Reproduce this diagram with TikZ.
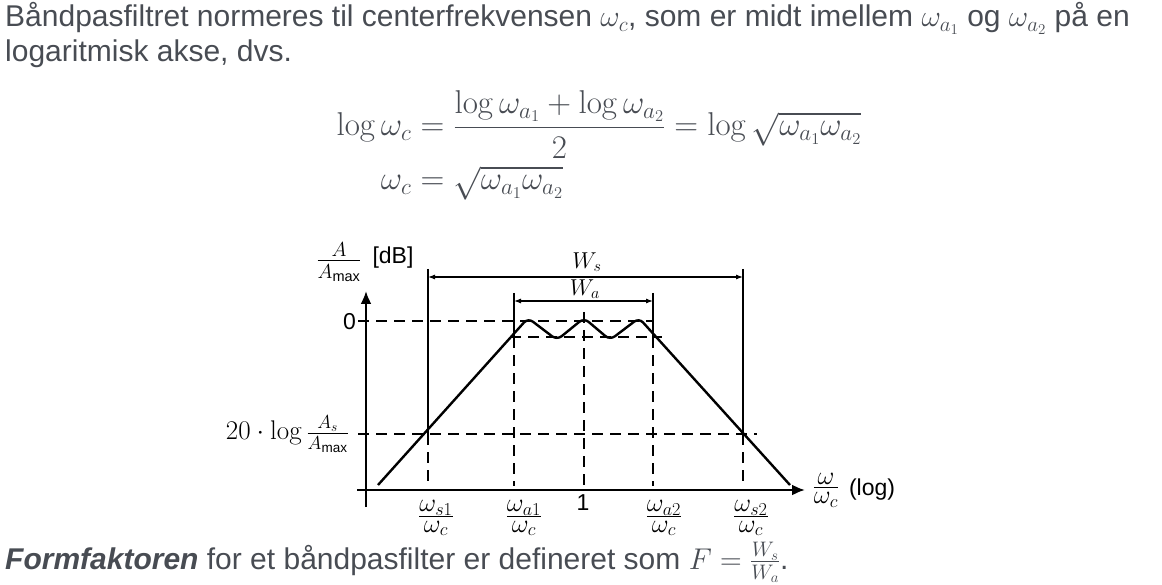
\RequirePackage{fix-cm}
\documentclass[tikz,border=0pt]{standalone}
\usepackage{amsmath}
\usepackage[no-math]{fontspec}
\setmainfont{Liberation Sans}
\setsansfont{Liberation Sans}
\usetikzlibrary{arrows.meta}
\definecolor{txtgray}{HTML}{484C53}
\newcommand{\wfrac}[2]{\frac{\textstyle #1}{\textstyle #2}}

\begin{document}
\begin{tikzpicture}[x=1pt,y=-1pt,
    txt/.style={anchor=base west,inner sep=0pt,text=txtgray,font=\fontsize{30}{36}\selectfont},
    lbl/.style={inner sep=0pt,font=\fontsize{23}{28}\selectfont},
    frac/.style={inner sep=0pt,font=\fontsize{29}{34}\selectfont},
    wlbl/.style={inner sep=0pt,font=\fontsize{26}{30}\selectfont},
    axis/.style={line width=2.2pt,-{Latex[length=13pt,width=11pt]}},
    dim/.style={line width=1.1pt,{Latex[length=7pt,width=5pt]}-{Latex[length=7pt,width=5pt]}},
    ext/.style={line width=1.1pt},
    guide/.style={line width=1.8pt,dash pattern=on 11pt off 7pt},
    resp/.style={line width=2.4pt,rounded corners=6pt},
    ]
    \useasboundingbox (0,0) rectangle (1162,585);

    \node[txt] (l1) at (5,27) {Båndpasfiltret normeres til centerfrekvensen $\omega_c$, som er midt imellem $\omega_{a_1}$ og $\omega_{a_2}$ på en};
    \node[txt] (l2) at (5,62) {logaritmisk akse, dvs.};
    \node[text=txtgray,font=\fontsize{33}{39}\selectfont] (eq) at (599,146) {$\begin{aligned}
        \log\omega_c &= \frac{\log\omega_{a_1}+\log\omega_{a_2}}{2} = \log\sqrt{\omega_{a_1}\omega_{a_2}}\\
        \omega_c &= \sqrt{\omega_{a_1}\omega_{a_2}}
      \end{aligned}$};
    \node[txt] (l3) at (5,569) {\textbf{\textit{Formfaktoren}} for et båndpasfilter er defineret som $F=\frac{W_s}{W_a}$.};

    \coordinate (ytop) at (366,291);
    \coordinate (ybot) at (366,507);
    \coordinate (xleft) at (357,490);
    \coordinate (xright) at (805,490);

    \coordinate (S1t) at (428,269);
    \coordinate (S1m) at (428,434);
    \coordinate (S1b) at (428,486);
    \coordinate (A1t) at (514,293);
    \coordinate (A1m) at (514,337);
    \coordinate (A1b) at (514,486);
    \coordinate (Ct) at (584,312);
    \coordinate (Cb) at (584,486);
    \coordinate (A2t) at (653,293);
    \coordinate (A2m) at (653,337);
    \coordinate (A2b) at (653,486);
    \coordinate (S2t) at (743,269);
    \coordinate (S2m) at (743,434);
    \coordinate (S2b) at (743,486);

    \coordinate (Z0) at (358,321);
    \coordinate (Z1) at (653,321);
    \coordinate (R0) at (510,337);
    \coordinate (R1) at (662,337);
    \coordinate (D0) at (358,434);
    \coordinate (D1) at (757,434);

    \coordinate (Ws1) at (428,277);
    \coordinate (Ws2) at (743,277);
    \coordinate (Wa1) at (514,301);
    \coordinate (Wa2) at (653,301);

    \draw[guide] (Z0) -- (Z1);
    \draw[guide] (R0) -- (R1);
    \draw[guide] (D0) -- (D1);
    \draw[guide] (S1m) -- (S1b);
    \draw[guide] (A1m) -- (A1b);
    \draw[guide] (Ct) -- (Cb);
    \draw[guide] (A2m) -- (A2b);
    \draw[guide] (S2m) -- (S2b);

    \draw[ext] (S1t) -- (S1m);
    \draw[ext] (A1t) -- (A1m);
    \draw[ext] (A2t) -- (A2m);
    \draw[ext] (S2t) -- (S2m);
    \draw[dim] (Ws1) -- (Ws2);
    \draw[dim] (Wa1) -- (Wa2);

    \draw[axis] (ybot) -- (ytop);
    \draw[axis] (xleft) -- (xright);

    \draw[resp] (378,485) -- (528,318) -- (557,340) -- (584,318) -- (610,340) -- (639,318) -- (790,485);

    \node[lbl] (Ws) at (587,262) {$W_s$};
    \node[lbl] (Wa) at (585,289) {$W_a$};
    \node[frac] (Ay) at (339,262) {$\frac{A}{A_{\text{max}}}$};
    \node[lbl] (dB) at (393,258) {[dB]};
    \node[lbl,anchor=east] (zero) at (356,322) {0};
    \node[frac,anchor=east,font=\fontsize{27}{32}\selectfont] (As) at (349,434) {$20\cdot\log\frac{A_s}{A_{\text{max}}}$};
    \node[wlbl] (ts1) at (436,518) {$\wfrac{\omega_{s1}}{\omega_c}$};
    \node[wlbl] (ta1) at (524,518) {$\wfrac{\omega_{a1}}{\omega_c}$};
    \node[lbl] (one) at (583,503) {1};
    \node[wlbl] (ta2) at (664,518) {$\wfrac{\omega_{a2}}{\omega_c}$};
    \node[wlbl] (ts2) at (751,518) {$\wfrac{\omega_{s2}}{\omega_c}$};
    \node[wlbl] (xw) at (826,490) {$\wfrac{\omega}{\omega_c}$};
    \node[lbl] (xlog) at (872,490) {(log)};
\end{tikzpicture}
\end{document}
